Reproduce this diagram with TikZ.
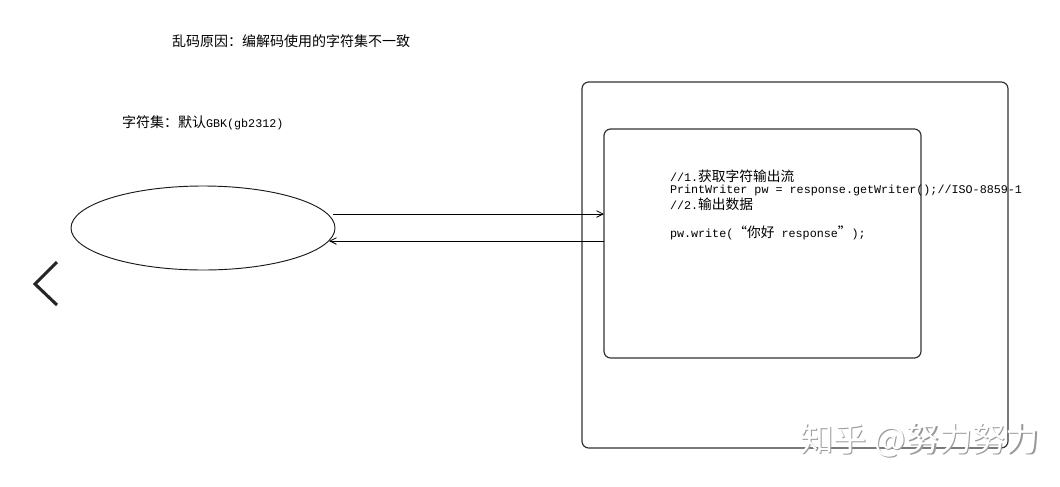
\documentclass[tikz,border=0pt]{standalone}
\usepackage{fontspec}
\newfontfamily\cjk{Noto Sans CJK SC}
\newfontfamily\codefont{Liberation Mono}
\newcommand\zh[1]{{\cjk\fontsize{10.3pt}{12pt}\selectfont #1}}
\usetikzlibrary{arrows.meta,shapes.geometric}
\definecolor{linec}{HTML}{333333}
\tikzset{
  every node/.style={inner sep=0pt, outer sep=0pt},
  box/.style={draw=linec, line width=0.9pt, rounded corners=5pt},
  arr/.style={draw=black, line width=0.75pt, -{Straight Barb[length=5pt,width=5pt,line width=0.6pt]}},
  lbl/.style={font=\cjk\fontsize{10.5pt}{12pt}\selectfont, anchor=west},
  code/.style={font=\codefont\fontsize{8.8pt}{10pt}\selectfont, anchor=west},
}
\begin{document}
\begin{tikzpicture}[x=0.75pt, y=-0.75pt]
\useasboundingbox (0,0) rectangle (1060,486);
\fill[white] (0,0) rectangle (1060,486);

\node[lbl] (title) at (172,41) {乱码原因：编解码使用的字符集不一致};
\node[lbl] (cs) at (122,123) {字符集：默认{\codefont\fontsize{8.8pt}{10pt}\selectfont GBK(gb2312)}};

\node[draw=black!90, line width=0.7pt, ellipse, minimum width=264*0.75pt, minimum height=84*0.75pt] (ell) at (203,228) {};

\node[box, minimum width=426*0.75pt, minimum height=366*0.75pt] (outer) at (795,265) {};
\node[box, minimum width=317*0.75pt, minimum height=229*0.75pt] (inner) at (762.5,243.5) {};

\draw[arr] ([shift={(-2,-14)}]ell.east) -- (inner.west |- {(0,214)});
\draw[arr] (inner.west |- {(0,241)}) -- ([shift={(-6,13)}]ell.east);

\node[code] (c1) at (670,176) {//1.\zh{获取字符输出流}};
\node[code] (c2) at (670,190) {PrintWriter pw = response.getWriter();//ISO-8859-1};
\node[code] (c3) at (670,204) {//2.\zh{输出数据}};
\node[code] (c4) at (670,233) {pw.write(\zh{“你好} response\zh{”});};

\draw[color=black!85, line width=2.3pt] (57,262) -- (35,284) -- (57,305);

\node[anchor=west, font=\cjk\fontsize{25pt}{28pt}\selectfont, text=black!40] (wms) at (801.5,441.5) {知乎 @努力努力};
\node[anchor=west, font=\cjk\fontsize{25pt}{28pt}\selectfont, text=white] (wm) at (800,440) {知乎 @努力努力};
\end{tikzpicture}
\end{document}
